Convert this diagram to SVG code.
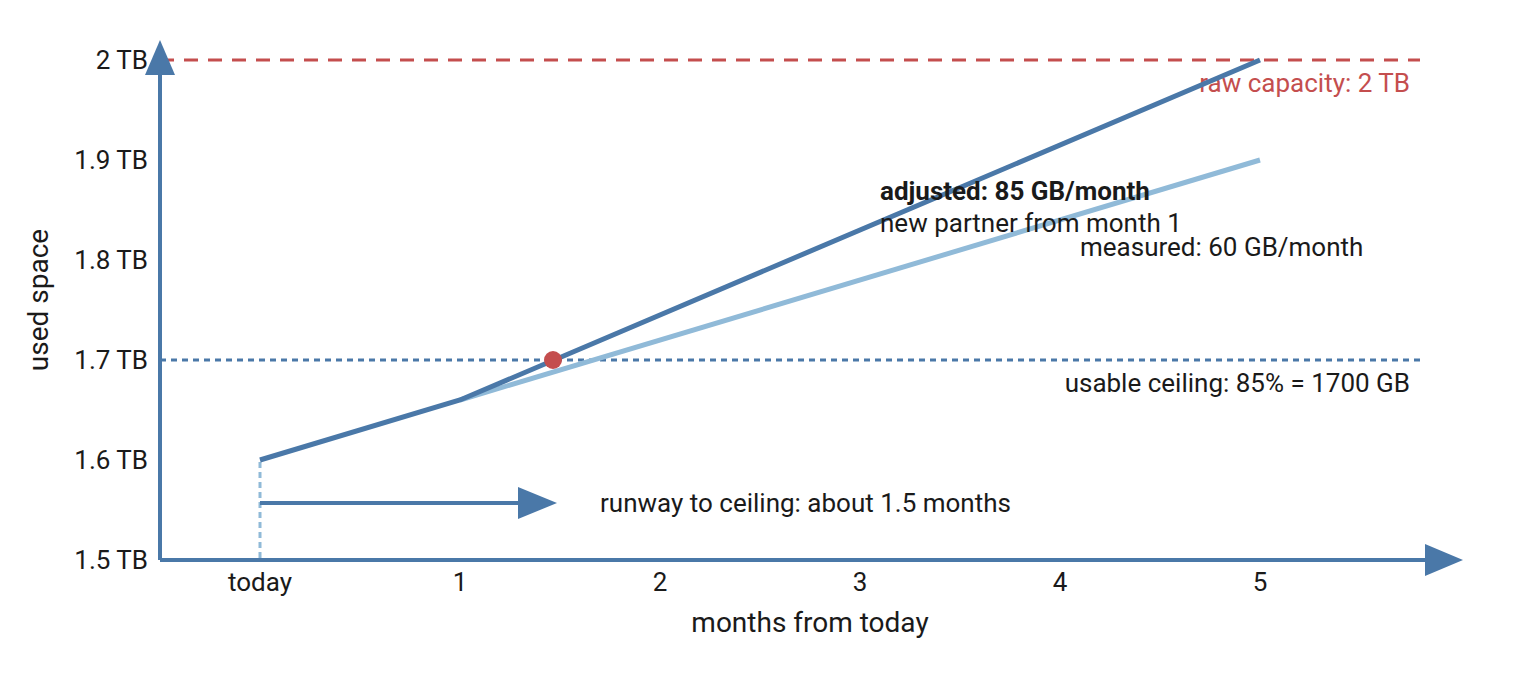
<svg xmlns="http://www.w3.org/2000/svg" width="1520" height="680" viewBox="0 0 1520 680">
<style>
text{font-family:Roboto,"Liberation Sans",sans-serif;font-size:26px;fill:#1a1a1a}
.t{text-anchor:end}
.c{text-anchor:middle}
</style>
<rect width="1520" height="680" fill="#fff"/>
<g id="labels-under">
<text class="t" x="1410" y="92" style="fill:#c44e4e">raw capacity: 2 TB</text>
</g>
<g id="connectors">
<line x1="160" y1="60" x2="1420" y2="60" stroke="#c44e4e" stroke-width="3" stroke-dasharray="14,10"/>
<line x1="160" y1="360" x2="1420" y2="360" stroke="#4a78a8" stroke-width="3" stroke-dasharray="6,5"/>
<line x1="260" y1="462" x2="260" y2="560" stroke="#90bad8" stroke-width="3" stroke-dasharray="6,4"/>
<line x1="160" y1="560" x2="1428" y2="560" stroke="#4a78a8" stroke-width="4"/>
<polygon points="1425,544 1463,560 1425,576" fill="#4a78a8"/>
<line x1="160" y1="560" x2="160" y2="72" stroke="#4a78a8" stroke-width="4"/>
<polygon points="145,75 160,40 175,75" fill="#4a78a8"/>
<polyline points="460,400 1260,160" fill="none" stroke="#90bad8" stroke-width="5"/>
<polyline points="260,460 460,400 1260,60" fill="none" stroke="#4a78a8" stroke-width="5"/>
<line x1="260" y1="503" x2="520" y2="503" stroke="#4a78a8" stroke-width="4"/>
<polygon points="518,487 557,503 518,519" fill="#4a78a8"/>
<circle cx="553" cy="360" r="9" fill="#c44e4e"/>
</g>
<g id="labels">
<text class="t" x="148" y="69">2 TB</text>
<text class="t" x="148" y="169">1.9 TB</text>
<text class="t" x="148" y="269">1.8 TB</text>
<text class="t" x="148" y="369">1.7 TB</text>
<text class="t" x="148" y="469">1.6 TB</text>
<text class="t" x="148" y="569">1.5 TB</text>
<text class="c" x="260" y="591">today</text>
<text class="c" x="460" y="591">1</text>
<text class="c" x="660" y="591">2</text>
<text class="c" x="860" y="591">3</text>
<text class="c" x="1060" y="591">4</text>
<text class="c" x="1260" y="591">5</text>
<text class="c" x="810" y="632" style="font-size:28px">months from today</text>
<text class="c" transform="translate(48,300) rotate(-90)" style="font-size:28px">used space</text>
<text class="t" x="1410" y="392">usable ceiling: 85% = 1700 GB</text>
<text x="880" y="200" style="font-weight:bold">adjusted: 85 GB/month</text>
<text x="880" y="232">new partner from month 1</text>
<text x="1080" y="256">measured: 60 GB/month</text>
<text x="600" y="512">runway to ceiling: about 1.5 months</text>
</g>
</svg>
